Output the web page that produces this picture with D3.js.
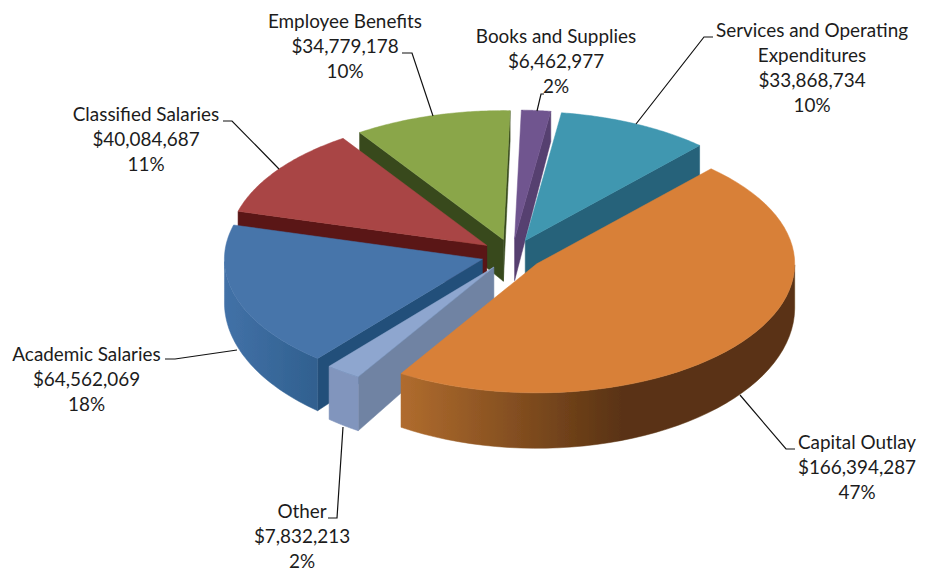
<!DOCTYPE html>
<html>
<head>
<meta charset="utf-8">
<script src="https://d3js.org/d3.v7.min.js"></script>
<style>
  body { margin: 0; background: #fff; }
  text { font-family: Lato, sans-serif; font-size: 18.9px; fill: #1c1c1c; text-anchor: middle; }
</style>
</head>
<body>
<script>
// Values, in clockwise order from the top of the pie
let categories = ["Books and Supplies", "Services and Operating Expenditures", "Capital Outlay", "Other", "Academic Salaries", "Classified Salaries", "Employee Benefits"];
let amounts = [6462977, 33868734, 166394287, 7832213, 64562069, 40084687, 34779178];
let percents = ["2%", "10%", "47%", "2%", "18%", "11%", "10%"];

// Slice colours: top face, cut face, outer wall left and right
let topColors = ["#70558f", "#3f97b0", "#d88038", "#8ea6cf", "#4674aa", "#a94544", "#8aa64a"];
let cutColors = ["#563f70", "#25627a", "#5b3415", "#6f83a3", "#24507a", "#5a1414", "#384a1e"];
let wallLeft = ["#563f70", "#25627a", "#b06c2e", "#8195bd", "#4271a7", "#5a1414", "#384a1e"];
let wallRight = ["#563f70", "#25627a", "#5a3313", "#8195bd", "#30608f", "#5a1414", "#384a1e"];

// Back to front
let drawOrder = [0, 1, 6, 5, 4, 3, 2];

// Label layout: centre x, first baseline, leader polyline
let labelLines = [
    ["Books and Supplies", "$6,462,977", "2%"],
    ["Services and Operating", "Expenditures", "$33,868,734", "10%"],
    ["Capital Outlay", "$166,394,287", "47%"],
    ["Other", "$7,832,213", "2%"],
    ["Academic Salaries", "$64,562,069", "18%"],
    ["Classified Salaries", "$40,084,687", "11%"],
    ["Employee Benefits", "$34,779,178", "10%"]
];
let labelX = [556, 812, 857, 302, 86.5, 146, 345];
let labelY = [43, 37, 449, 517.5, 361, 121, 28];
let leaders = [
    [[537, 111], [541, 94], [544, 94]],
    [[636, 124], [704, 37], [713, 37]],
    [[740, 395], [786, 449], [795, 449]],
    [[343, 427], [337, 518], [328, 518]],
    [[237, 350], [175, 359], [165, 359]],
    [[279, 169], [232, 121], [223, 121]],
    [[433, 116], [412, 53], [402, 53]]
];

let width = 930;
let height = 571;

// Pie geometry
let cx = 512, cy = 254.5;
let radius = 258, tilt = 0.5, explode = 31;

let svg = d3.select("body").append("svg")
    .attr("width", width)
    .attr("height", height);

let defs = svg.append("defs");
defs.append("filter").attr("id", "soft")
    .append("feGaussianBlur").attr("stdDeviation", 0.45);

let pie = d3.pie().sort(null).startAngle(1.5 * Math.PI / 180).endAngle(361.5 * Math.PI / 180);
let slices = pie(amounts);

// Flat pie coordinates to the page, theta is clockwise from the top
function project(theta, r, ox, oy) {
    return [ox + r * Math.sin(theta), oy - r * tilt * Math.cos(theta)];
}
// The side gets taller towards the viewer
function drop(p) {
    return [p[0], p[1] + 43 + (p[1] - cy) * 0.09];
}

let line = d3.line();
let chart = svg.append("g").attr("filter", "url(#soft)");

function face(points, fill) {
    chart.append("path")
        .attr("d", line(points) + "Z")
        .attr("fill", fill)
        .attr("stroke", fill)
        .attr("stroke-width", 0.5);
}

drawOrder.forEach(function (i) {
    let s = slices[i];
    let mid = (s.startAngle + s.endAngle) / 2;
    let ox = cx + explode * Math.sin(mid);
    let oy = cy - explode * tilt * Math.cos(mid);
    let apex = [ox, oy];

    let rim = d3.range(0, 61).map(function (k) {
        return project(s.startAngle + (s.endAngle - s.startAngle) * k / 60, radius, ox, oy);
    });

    // Cut faces that turn towards the viewer
    if (Math.sin(s.endAngle) > 0) {
        let c = rim[rim.length - 1];
        face([apex, c, drop(c), drop(apex)], cutColors[i]);
    }
    if (Math.sin(s.startAngle) < 0) {
        let c = rim[0];
        face([apex, c, drop(c), drop(apex)], cutColors[i]);
    }

    // Outer wall, only the near half of the rim shows
    let near = rim.filter(function (p, k) {
        let a = s.startAngle + (s.endAngle - s.startAngle) * k / 60;
        return Math.cos(a) < 0;
    });
    if (near.length > 1) {
        let gradId = "wall" + i;
        let x0 = d3.min(near, d => d[0]);
        let x1 = d3.max(near, d => d[0]);
        let grad = defs.append("linearGradient")
            .attr("id", gradId)
            .attr("gradientUnits", "userSpaceOnUse")
            .attr("x1", x0).attr("x2", i === 2 ? x0 + 220 : x1)
            .attr("y1", 0).attr("y2", 0);
        grad.append("stop").attr("offset", 0).attr("stop-color", wallLeft[i]);
        grad.append("stop").attr("offset", 1).attr("stop-color", wallRight[i]);
        face(near.concat(near.map(drop).reverse()), "url(#" + gradId + ")");
    }

    // Top face
    face([apex].concat(rim), topColors[i]);
});

// Leader lines
svg.append("g").selectAll("path")
    .data(leaders)
    .enter()
    .append("path")
    .attr("d", d => line(d))
    .attr("fill", "none")
    .attr("stroke", "#111")
    .attr("stroke-width", 1.2);

// Labels
labelLines.forEach(function (lines, i) {
    let t = svg.append("text").attr("y", labelY[i]);
    lines.forEach(function (str, k) {
        t.append("tspan")
            .attr("x", labelX[i])
            .attr("dy", k === 0 ? 0 : 25)
            .text(str);
    });
});
</script>
</body>
</html>
